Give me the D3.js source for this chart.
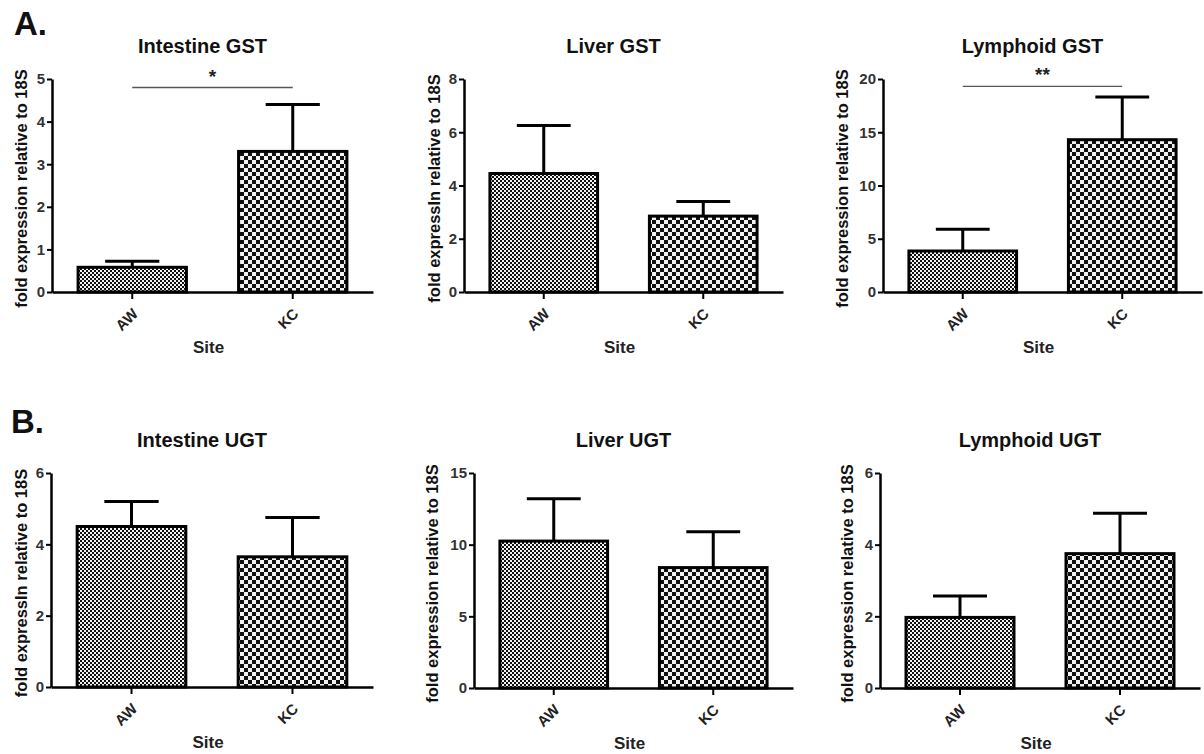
<!DOCTYPE html>
<html>
<head>
<meta charset="utf-8">
<script src="https://cdn.jsdelivr.net/npm/d3@7"></script>
<style>
  body { margin: 0; background: #fff; }
  svg { display: block; font-family: "Liberation Sans", Arial, sans-serif; font-weight: bold; }
</style>
</head>
<body>
<div id="chart"></div>
<script>
// Data
const categories = ["AW", "KC"];
const panelTitles = ["Intestine GST", "Liver GST", "Lymphoid GST", "Intestine UGT", "Liver UGT", "Lymphoid UGT"];
const yLabels = [
  "fold expression relative to 18S",
  "fold expressIn relative to 18S",
  "fold expression relative to 18S",
  "fold expressIn relative to 18S",
  "fold expression relative to 18S",
  "fold expression relative to 18S"
];
const yMax = [5, 8, 20, 6, 15, 6];
const yStep = [1, 2, 5, 2, 5, 2];
const meanValues = [
  [0.58, 3.3],
  [4.45, 2.85],
  [3.85, 14.3],
  [4.5, 3.65],
  [10.25, 8.4],
  [1.97, 3.75]
];
const semValues = [
  [0.14, 1.1],
  [1.8, 0.55],
  [2.05, 4.0],
  [0.7, 1.1],
  [2.95, 2.5],
  [0.6, 1.13]
];
const sigPanels = [0, 2];
const sigLevels = [4.8, 19.3];
const sigTexts = ["*", "**"];
const panelLetters = ["A.", "B."];

// Layout (pixel frames of each plot area)
const frames = [
  { x0: 52, x1: 373, top: 79, y0: 292, lab: 31 },
  { x0: 464, x1: 783, top: 79, y0: 292, lab: 30 },
  { x0: 883, x1: 1202, top: 79, y0: 292, lab: 41 },
  { x0: 51, x1: 373, top: 473, y0: 687, lab: 30 },
  { x0: 474, x1: 793, top: 473, y0: 688, lab: 42 },
  { x0: 880, x1: 1200, top: 473, y0: 688, lab: 33 }
];

const width = 1204, height = 754;
const svg = d3.select("#chart").append("svg")
  .attr("width", width)
  .attr("height", height);

// Checker patterns: fine for AW, coarse for KC
const defs = svg.append("defs");
function checker(id, size) {
  const p = defs.append("pattern")
    .attr("id", id)
    .attr("patternUnits", "userSpaceOnUse")
    .attr("width", size * 2)
    .attr("height", size * 2);
  p.append("rect").attr("width", size * 2).attr("height", size * 2).attr("fill", "#f2f2f2");
  p.append("rect").attr("width", size).attr("height", size).attr("fill", "#111");
  p.append("rect").attr("x", size).attr("y", size).attr("width", size).attr("height", size).attr("fill", "#111");
}
checker("fine", 2);
checker("coarse", 4);
const fills = ["url(#fine)", "url(#coarse)"];

// Panel letters
svg.append("text").attr("x", 14).attr("y", 35).attr("font-size", 33).attr("fill", "#111").text(panelLetters[0]);
svg.append("text").attr("x", 11).attr("y", 433).attr("font-size", 33).attr("fill", "#111").text(panelLetters[1]);

frames.forEach((f, i) => {
  const g = svg.append("g");
  const x = d3.scaleBand().domain(categories).range([f.x0, f.x1])
    .paddingInner(0.325).paddingOuter(0.1625);
  const y = d3.scaleLinear().domain([0, yMax[i]]).range([f.y0, f.top]);
  const ticks = d3.range(0, yMax[i] + yStep[i] / 2, yStep[i]);

  const rows = categories.map((c, j) => ({ cat: c, mean: meanValues[i][j], sem: semValues[i][j], fill: fills[j] }));

  // Error bars (upper only), drawn under the bars
  const capW = x.bandwidth() * 0.5;
  rows.forEach(d => {
    const cx = x(d.cat) + x.bandwidth() / 2;
    g.append("line")
      .attr("x1", cx).attr("x2", cx)
      .attr("y1", y(d.mean)).attr("y2", y(d.mean + d.sem))
      .attr("stroke", "#000").attr("stroke-width", 3);
    g.append("line")
      .attr("x1", cx - capW / 2).attr("x2", cx + capW / 2)
      .attr("y1", y(d.mean + d.sem)).attr("y2", y(d.mean + d.sem))
      .attr("stroke", "#000").attr("stroke-width", 3);
  });

  g.selectAll("rect.bar").data(rows).join("rect")
    .attr("class", "bar")
    .attr("x", d => x(d.cat))
    .attr("y", d => y(d.mean))
    .attr("width", x.bandwidth())
    .attr("height", d => y(0) - y(d.mean))
    .attr("fill", d => d.fill)
    .attr("stroke", "#000")
    .attr("stroke-width", 3);

  // Y axis
  const ya = g.append("g")
    .attr("transform", `translate(${f.x0},0)`)
    .call(d3.axisLeft(y).tickValues(ticks).tickSize(5).tickSizeOuter(0).tickPadding(2).tickFormat(d3.format("d")));
  ya.select(".domain").attr("stroke", "#000").attr("stroke-width", 2.5);
  ya.selectAll(".tick line").attr("stroke", "#000").attr("stroke-width", 2);
  ya.selectAll(".tick text").attr("font-size", 15).attr("font-weight", "bold").attr("fill", "#333")
    .attr("font-family", "Liberation Sans, Arial, sans-serif");

  // X axis
  const xa = g.append("g")
    .attr("transform", `translate(0,${f.y0})`)
    .call(d3.axisBottom(x).tickSize(7).tickSizeOuter(0).tickFormat(""));
  xa.select(".domain").attr("stroke", "#000").attr("stroke-width", 2.5);
  xa.selectAll(".tick line").attr("stroke", "#000").attr("stroke-width", 2);

  categories.forEach(c => {
    const cx = x(c) + x.bandwidth() / 2;
    g.append("text")
      .attr("transform", `translate(${cx + 3},${f.y0 + 19}) rotate(-45)`)
      .attr("text-anchor", "end")
      .attr("dy", "0.35em")
      .attr("font-size", 15)
      .attr("fill", "#222")
      .text(c);
  });

  const mid = (f.x0 + f.x1) / 2;
  g.append("text")
    .attr("x", mid - 4).attr("y", f.y0 + 61)
    .attr("text-anchor", "middle")
    .attr("font-size", 17).attr("fill", "#222")
    .text("Site");

  g.append("text")
    .attr("x", mid - 10).attr("y", f.top - 26)
    .attr("text-anchor", "middle")
    .attr("font-size", 20).attr("fill", "#111")
    .text(panelTitles[i]);

  g.append("text")
    .attr("transform", `translate(${f.x0 - f.lab},${(f.top + f.y0) / 2 + 3}) rotate(-90)`)
    .attr("text-anchor", "middle")
    .attr("dy", "0.35em")
    .attr("font-size", 16.5).attr("fill", "#111")
    .text(yLabels[i]);

  // Significance annotation
  const k = sigPanels.indexOf(i);
  if (k >= 0) {
    const a = x(categories[0]) + x.bandwidth() / 2;
    const b = x(categories[1]) + x.bandwidth() / 2;
    g.append("line")
      .attr("x1", a).attr("x2", b)
      .attr("y1", y(sigLevels[k])).attr("y2", y(sigLevels[k]))
      .attr("stroke", "#555").attr("stroke-width", 1.3);
    g.append("text")
      .attr("x", (a + b) / 2).attr("y", y(sigLevels[k]) - 5)
      .attr("text-anchor", "middle")
      .attr("font-size", 19).attr("fill", "#222")
      .text(sigTexts[k]);
  }
});
</script>
</body>
</html>
